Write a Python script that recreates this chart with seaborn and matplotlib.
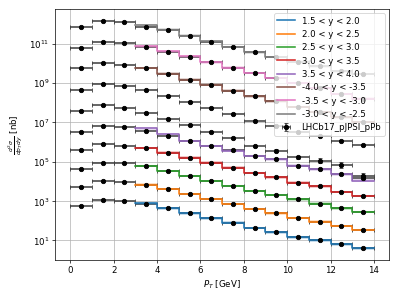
import numpy as np
import pandas as pd
import matplotlib
matplotlib.use("Agg")
import matplotlib.pyplot as plt
import seaborn as sns

# ---------------- data ----------------
pt_centers = [0.5, 1.5, 2.5, 3.5, 4.5, 5.5, 6.5, 7.5, 8.5, 9.5, 10.5, 11.5, 12.5, 13.5]
pt_half_width = [0.5] * 14
pred_edges = [3, 4, 5, 6, 7, 8, 9, 10, 11, 12, 13, 14]

# measured (already scaled for display)
data_y15_20 = [580, 1120, 1000, 700, 425, 236, 131, 78, 41, 26, 14.2, 10, 6.2, 3.9]
data_y20_25 = [5000, 10400, 9300, 6800, 3950, 2280, 1260, 700, 390, 236, 136, 89, 53, 32]
data_y25_30 = [42700, 89000, 83000, 58600, 33700, 18800, 10400, 5800, 3230, 1950, 1220, 730, 425, 275]
data_y30_35 = [3.96e5, 7.73e5, 6.56e5, 4.84e5, 2.89e5, 1.61e5, 8.93e4, 4.97e4, 2.67e4, 1.61e4, 8.45e3, 5.48e3, 2.87e3, 1.86e3]
data_y35_40 = [3.39e6, 6.62e6, 5.68e6, 3.68e6, 2.05e6, 1.14e6, 6.34e5, 3.74e5, 2.01e5, 1.38e5, 6.28e4, 4.12e4, 2.37e4, 1.40e4]
data_ym50_m45 = [3.72e7, 7.16e7, 5.27e7, 2.94e7, 1.45e7, 7.45e6, 3.09e6, 1.56e6, 6.34e5, 3.65e5, 1.64e5, 1.13e5, 6.8e4, 1.77e4]
data_ym45_m40 = [4.52e8, 8.81e8, 6.65e8, 4.16e8, 2.16e8, 1.02e8, 5.34e7, 2.61e7, 1.23e7, 6.86e6, 3.16e6, 2.12e6, 1.18e6, 7.13e5]
data_ym40_m35 = [5.43e9, 1.04e10, 8.48e9, 5.75e9, 2.95e9, 1.46e9, 8.13e8, 4.02e8, 2.06e8, 1.15e8, 6.15e7, 3.42e7, 1.79e7, 1.06e7]
data_ym35_m30 = [6.22e10, 1.26e11, 1.08e11, 7.0e10, 3.89e10, 2.0e10, 1.11e10, 5.96e9, 3.2e9, 1.76e9, 9.68e8, 5.38e8, 2.82e8, 1.57e8]
data_ym30_m25 = [7.06e11, 1.48e12, 1.21e12, 7.31e11, 4.74e11, 2.46e11, 1.26e11, 6.76e10, 3.59e10, 2.09e10, 1.2e10, 6.95e9, 3.86e9, 2.78e9]

# relative uncertainties
rel_err_default = [0.08] * 14
rel_err_ym50_m45 = [0.08, 0.08, 0.08, 0.08, 0.08, 0.08, 0.1, 0.1, 0.12, 0.15, 0.2, 0.3, 0.4, 0.45]

# predictions (bins 3-4 ... 13-14)
pred_y15_20 = [760, 425, 240, 132, 80, 42, 26, 14.5, 10, 6.3, 4.0]
pred_y20_25 = [6900, 4000, 2300, 1270, 710, 395, 240, 138, 90, 54, 33]
pred_y25_30 = [59000, 34000, 19000, 10500, 5900, 3300, 2000, 1230, 740, 430, 280]
pred_y30_35 = [4.9e5, 2.9e5, 1.62e5, 9.0e4, 5.0e4, 2.7e4, 1.62e4, 8.5e3, 5.5e3, 2.9e3, 1.85e3]
pred_y35_40 = [5.0e6, 2.5e6, 1.14e6, 6.3e5, 3.6e5, 1.95e5, 1.3e5, 6.2e4, 4.0e4, 2.3e4, 1.1e4]
pred_ym40_m35 = [5.8e9, 2.95e9, 1.46e9, 8.1e8, 4.0e8, 2.06e8, 1.15e8, 6.1e7, 3.4e7, 1.8e7, 1.05e7]
pred_ym35_m30 = [7.1e10, 4.0e10, 2.2e10, 1.12e10, 6.0e9, 3.2e9, 1.76e9, 9.7e8, 5.4e8, 2.8e8, 1.57e8]
pred_ym30_m25 = [8.7e11, 5.1e11, 2.5e11, 1.28e11, 6.8e10, 3.6e10, 2.1e10, 1.2e10, 7.0e9, 3.9e9, 2.8e9]

pred_labels = ["1.5 < y < 2.0", "2.0 < y < 2.5", "2.5 < y < 3.0", "3.0 < y < 3.5",
               "3.5 < y < 4.0", "-4.0 < y < -3.5", "-3.5 < y < -3.0", "-3.0 < y < -2.5"]
pred_series = [pred_y15_20, pred_y20_25, pred_y25_30, pred_y30_35,
               pred_y35_40, pred_ym40_m35, pred_ym35_m30, pred_ym30_m25]
data_series = [data_y15_20, data_y20_25, data_y25_30, data_y30_35, data_y35_40,
               data_ym50_m45, data_ym45_m40, data_ym40_m35, data_ym35_m30, data_ym30_m25]
data_errs = [rel_err_default] * 5 + [rel_err_ym50_m45] + [rel_err_default] * 4
data_label = "LHCb17_pJPSI_pPb"

# ---------------- plot ----------------
DPI = 62.35
fig, ax = plt.subplots(figsize=(6.4, 4.8), dpi=DPI)
fig.subplots_adjust(left=0.138, right=0.975, bottom=0.130, top=0.970)
ax.set_yscale("log")

palette = sns.color_palette("tab10", 8)
for vals, lab, col in zip(pred_series, pred_labels, palette):
    yext = list(vals) + [vals[-1]]
    df = pd.DataFrame({"pt": pred_edges, "val": yext})
    ax.fill_between(pred_edges, np.array(yext) * 0.86, np.array(yext) * 1.16,
                    step="post", color=col, alpha=0.25, lw=0, zorder=2.5)
    sns.lineplot(data=df, x="pt", y="val", drawstyle="steps-post", color=col,
                 lw=1.8, label=lab, ax=ax, zorder=3, estimator=None, sort=False)

for i, (vals, rel) in enumerate(zip(data_series, data_errs)):
    v = np.array(vals)
    r = np.array(rel)
    eb = ax.errorbar(pt_centers, v, xerr=pt_half_width, yerr=[v * r / (1 + r), v * r],
                     fmt="o", color="k", ms=5, ecolor="0.25", elinewidth=1.8,
                     capsize=2.5, capthick=1.0, zorder=2,
                     label=data_label if i == 0 else "_nolegend_")
    eb[0].set_zorder(4)

ax.set_xlim(-0.7, 14.7)
ax.set_ylim(1.0, 10 ** 12.77)
ax.set_yticks([1e1, 1e3, 1e5, 1e7, 1e9, 1e11])
ax.set_xticks([0, 2, 4, 6, 8, 10, 12, 14])
ax.grid(True, color="#b0b0b0", lw=0.8)
ax.set_axisbelow(True)
ax.set_xlabel(r"$P_T$ [GeV]")
ax.set_ylabel(r"$\frac{d^2\sigma}{dp_T dy}$ [nb]")
ax.legend(loc="upper right", fontsize=10)

fig.savefig("out.png", dpi=DPI)
